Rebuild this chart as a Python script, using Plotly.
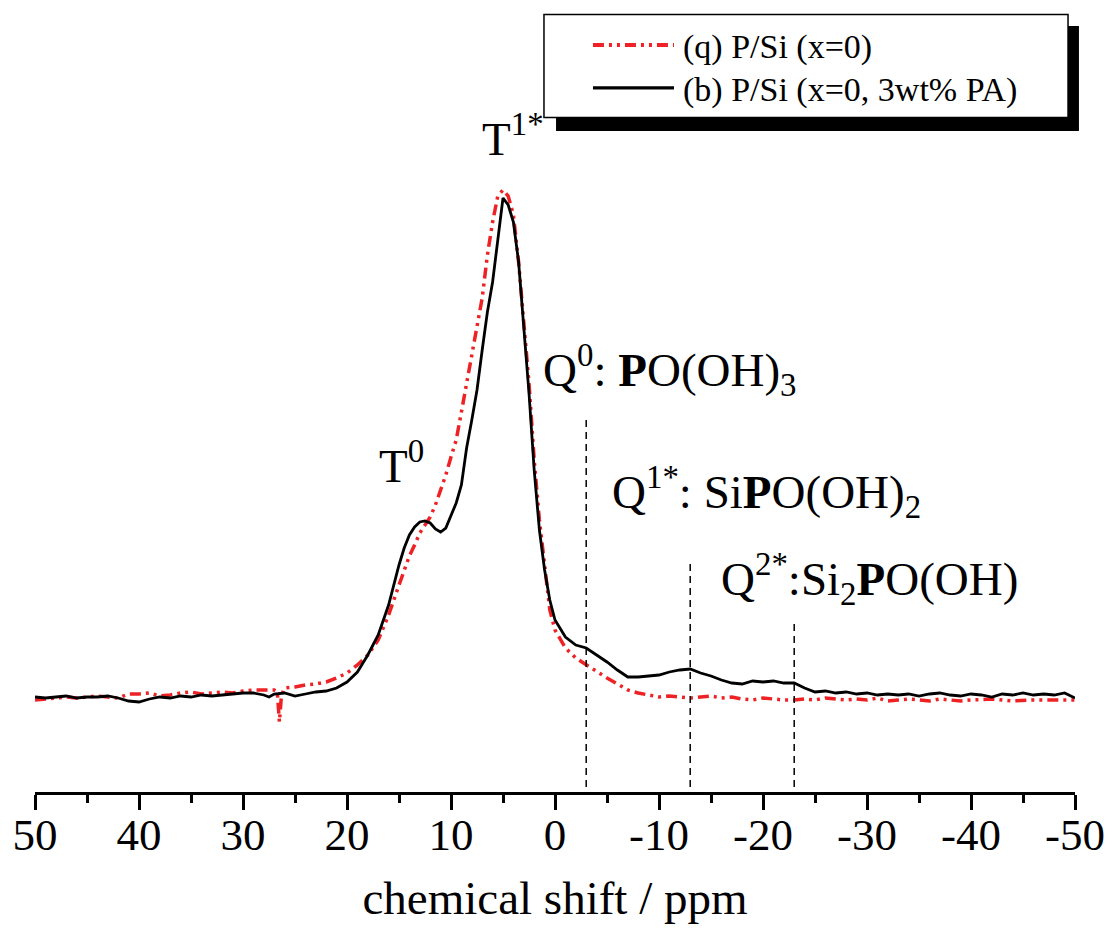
import plotly.graph_objects as go

# ---- data (chemical shift in ppm, intensity in arbitrary units) ----
shift_b = [50, 49, 48, 47, 46, 45, 44, 43, 42, 41, 40, 39, 38, 37, 36, 35, 34, 33, 32, 31,
           30, 29, 28, 27.5, 27, 26, 25, 24, 23, 22, 21, 20, 19, 18, 17.5, 17, 16, 15, 14.5, 14,
           13.5, 13, 12.5, 12, 11.5, 11, 10.5, 10, 9.5, 9, 8.5, 8, 7.5, 7, 6.5, 6, 5.5, 5, 4.5, 4,
           3.5, 3, 2.5, 2, 1.5, 1, 0.5, 0, -1, -2, -3, -4, -5, -6, -7, -8, -9, -10, -11, -12,
           -13, -14, -15, -16, -17, -18, -19, -20, -21, -22, -23, -24, -25, -26, -27, -28, -29, -30,
           -31, -32, -33, -34, -35, -36, -37, -38, -39, -40, -41, -42, -43, -44, -45, -46, -47, -48,
           -49, -50]
intensity_b = [95, 94, 95, 96, 94, 95, 95, 96, 94, 91, 90, 93, 95, 94, 96, 95, 97, 96, 97, 98,
               99, 99, 97, 95, 98, 99, 96, 98, 100, 101, 104, 110, 120, 137, 147, 157, 187, 227, 244, 257,
               265, 270, 271, 269, 263, 260, 264, 276, 289, 307, 344, 372, 402, 442, 480, 510, 555, 594, 587, 570,
               530, 467, 399, 322, 262, 222, 192, 172, 155, 147, 144, 137, 130, 122, 115, 115, 116, 117, 120, 122,
               123, 119, 116, 112, 109, 108, 111, 110, 111, 109, 109, 104, 100, 101, 99, 100, 98, 99,
               97, 98, 97, 98, 96, 98, 99, 97, 96, 98, 97, 95, 98, 97, 99, 97, 98, 97,
               99, 94]

shift_q = [50, 49, 48, 47, 46, 45, 44, 43, 42, 41, 40, 39, 38, 37, 36, 35, 34, 33, 32, 31,
           30, 29, 28, 27, 26.7, 26.5, 26.3, 26, 25, 24, 23, 22, 21, 20, 19, 18, 17, 16, 15, 14,
           13.5, 13, 12.5, 12, 11.5, 11, 10.5, 10, 9.5, 9, 8.5, 8, 7.5, 7, 6.5, 6, 5.5, 5, 4.5, 4,
           3.5, 3, 2.5, 2, 1.5, 1, 0.5, 0, -1, -2, -3, -4, -5, -6, -7, -8, -9, -10, -11, -12,
           -13, -14, -15, -16, -17, -18, -19, -20, -21, -22, -23, -24, -25, -26, -27, -28, -29, -30,
           -31, -32, -33, -34, -35, -36, -37, -38, -39, -40, -42, -44, -46, -48, -50]
intensity_q = [92, 93, 94, 95, 94, 95, 96, 95, 94, 98, 98, 99, 96, 97, 99, 100, 98, 99, 100, 99,
               101, 102, 102, 102, 100, 70, 97, 104, 105, 107, 108, 110, 114, 119, 127, 137, 152, 177, 207, 236,
               247, 259, 267, 275, 287, 302, 317, 335, 352, 380, 409, 437, 465, 494, 537, 570, 596, 602, 596, 577,
               530, 474, 409, 332, 272, 227, 182, 162, 144, 134, 127, 120, 114, 108, 102, 99, 97, 95, 96, 95,
               94, 95, 96, 94, 95, 93, 92, 94, 93, 92, 92, 93, 92, 94, 93, 92, 93, 92,
               94, 91, 92, 93, 92, 91, 93, 92, 91, 92, 93, 91, 92, 92, 92]

# assignment markers (dashed lines)
marker_shift = [-3, -13, -23]
marker_top = [377, 232, 170]
marker_bottom = 5

x_range = [50, -50]
x_ticks = [50, 40, 30, 20, 10, 0, -10, -20, -30, -40, -50]
tick_text = ["50", "40", "30", "20", "10", "0", "-10", "-20", "-30", "-40", "-50"]

series_names = ["(q) P/Si (x=0)", "(b) P/Si (x=0, 3wt% PA)"]
series_colors = ["#ee2224", "black"]
series_widths = [3.5, 2.8]
series_dash = ["11px,5px,3px,5px,3px,5px", "solid"]

FONT = "Liberation Serif"

fig = go.Figure()
fig.add_trace(go.Scatter(
    x=shift_q, y=intensity_q, mode="lines", name=series_names[0],
    line=dict(color=series_colors[0], width=series_widths[0], dash=series_dash[0]),
))
# the black trace sits on the label axis (same range) so that axis is drawn
fig.add_trace(go.Scatter(
    x=shift_b, y=intensity_b, mode="lines", name=series_names[1], xaxis="x2",
    line=dict(color=series_colors[1], width=series_widths[1], dash=series_dash[1]),
))

shapes = []
for xs, top in zip(marker_shift, marker_top):
    shapes.append(dict(type="line", xref="x", yref="y", x0=xs, x1=xs, y0=marker_bottom, y1=top,
                       line=dict(color="black", width=1.5, dash="7px,5px")))

# hand-built legend: shadow, box, samples, labels
shapes.append(dict(type="rect", xref="paper", yref="paper", x0=0.5010, x1=1.0038, y0=0.8453, y1=0.9795,
                   fillcolor="black", line=dict(width=0), layer="above"))
shapes.append(dict(type="rect", xref="paper", yref="paper", x0=0.4894, x1=0.9933, y0=0.8625, y1=0.9942,
                   fillcolor="white", line=dict(color="black", width=1.5), layer="above"))
legend_y = [0.9552, 0.9003]
for i in range(2):
    shapes.append(dict(type="line", xref="paper", yref="paper", x0=0.5365, x1=0.6144,
                       y0=legend_y[i], y1=legend_y[i], layer="above",
                       line=dict(color=series_colors[i], width=series_widths[i] + 0.5,
                                 dash=series_dash[i])))
fig.update_layout(shapes=shapes)

for i in range(2):
    fig.add_annotation(xref="paper", yref="paper", x=0.6221, y=legend_y[i] - 0.002, text=series_names[i],
                       xanchor="left", yanchor="middle", showarrow=False, borderpad=0,
                       font=dict(family=FONT, size=34, color="black"))

annots = [
    dict(x=4.0, y=626, text="T<sup>1*</sup>", xanchor="center", yanchor="bottom"),
    dict(x=17.0, y=299, text="T<sup>0</sup>", xanchor="left", yanchor="bottom"),
    dict(x=1.25, y=388, text="Q<sup>0</sup>: <b>P</b>O(OH)<sub>3</sub>", xanchor="left", yanchor="bottom"),
    dict(x=-5.4, y=266, text="Q<sup>1*</sup>: Si<b>P</b>O(OH)<sub>2</sub>", xanchor="left", yanchor="bottom"),
    dict(x=-15.9, y=179, text="Q<sup>2*</sup>:Si<sub>2</sub><b>P</b>O(OH)", xanchor="left", yanchor="bottom"),
]
for a in annots:
    fig.add_annotation(xref="x", yref="y", showarrow=False, font=dict(family=FONT, size=47, color="black"),
                       borderpad=0, **a)

fig.update_layout(
    width=1114, height=929,
    margin=dict(l=35, r=39, t=10, b=137),
    paper_bgcolor="white", plot_bgcolor="white",
    font=dict(family=FONT, color="black"),
    showlegend=False,
    xaxis=dict(range=x_range, tickvals=x_ticks, showticklabels=False,
               showgrid=False, zeroline=False, showline=True, linecolor="black", linewidth=3,
               ticks="outside", ticklen=15, tickwidth=3, tickcolor="black",
               minor=dict(dtick=5, ticks="outside", ticklen=8, tickwidth=3, tickcolor="black", showgrid=False),
               mirror=False),
    # label-only companion axis so the tick labels sit closer to the ticks
    xaxis2=dict(range=x_range, overlaying="x", anchor="y", side="bottom",
                tickvals=x_ticks, ticktext=tick_text, ticks="", showline=False,
                showgrid=False, zeroline=False, ticklabelstandoff=12,
                tickfont=dict(family=FONT, size=45, color="black"),
                title=dict(text="chemical shift / ppm", font=dict(family=FONT, size=47, color="black"),
                           standoff=22)),
    yaxis=dict(range=[0, 782], visible=False, showgrid=False, zeroline=False),
)

fig.write_html("out.html")
